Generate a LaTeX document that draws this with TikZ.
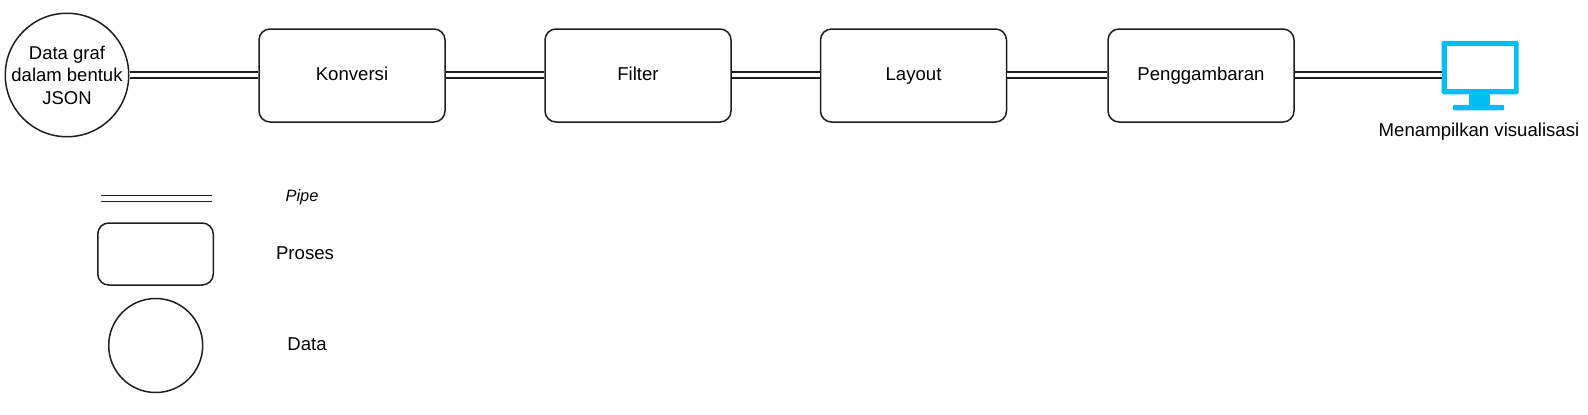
\documentclass[tikz,border=0pt]{standalone}
\usepackage{fontspec}
\setmainfont{Liberation Sans}
\definecolor{mon}{RGB}{0,190,242}
\definecolor{ln}{RGB}{30,30,30}
\tikzset{
  px/.style={x=1pt,y=-1pt},
  proc/.style={draw=ln,line width=1.5pt,rounded corners=11pt,minimum width=186pt,minimum height=93pt,inner sep=0pt,text height=13pt,text depth=4pt,font=\fontsize{18.6}{22}\selectfont,fill=white},
  dat/.style={draw=ln,line width=1.5pt,circle,inner sep=-8pt,align=center,font=\fontsize{18.5}{22.5}\selectfont,fill=white},
  pipe/.style={draw=ln,line width=7.6pt,postaction={draw=white,line width=4.6pt}},
  lbl/.style={inner sep=0pt,font=\fontsize{18.6}{22}\selectfont},
  monpart/.style={fill=mon,draw=none,inner sep=0pt}
}
\begin{document}
\begin{tikzpicture}[px]
\useasboundingbox (0,0) rectangle (1588,415);
\coordinate (cpipe) at (0,75);
\node[dat,minimum size=123.5pt] (d) at (67,75) {Data graf\\dalam bentuk\\JSON};
\node[proc] (p1) at (352,75.5) {Konversi};
\node[proc] (p2) at (638,75.5) {Filter};
\node[proc] (p3) at (913.5,75.5) {Layout};
\node[proc] (p4) at (1201,75.5) {Penggambaran};
% monitor
\node[monpart,rounded corners=1.5pt,minimum width=77pt,minimum height=53.5pt] (mon) at (1480.2,67.5) {};
\node[fill=white,draw=none,inner sep=0pt,minimum width=67.5pt,minimum height=43.5pt] (scr) at (1480.3,67.6) {};
\node[monpart,minimum width=21pt,minimum height=12pt] (stand) at (1479.5,99.5) {};
\node[monpart,rounded corners=1pt,minimum width=51pt,minimum height=5.5pt] (base) at (1478.5,107.5) {};
\node[lbl] (ml) at (1479,132) {Menampilkan visualisasi};
\draw[pipe] (d.east |- cpipe) -- (p1.west |- cpipe);
\draw[pipe] (p1.east |- cpipe) -- (p2.west |- cpipe);
\draw[pipe] (p2.east |- cpipe) -- (p3.west |- cpipe);
\draw[pipe] (p3.east |- cpipe) -- (p4.west |- cpipe);
\draw[pipe] (p4.east |- cpipe) -- (mon.west |- cpipe);
% legend
\coordinate (la) at (101,198.5);
\coordinate (lb) at (212,198.5);
\draw[pipe] (la) -- (lb);
\node[proc,minimum width=115.5pt,minimum height=62pt] (lp) at (155.5,254) {};
\node[dat,minimum size=94pt] (ld) at (155.7,345.5) {};
\node[lbl,font=\fontsize{16.4}{20}\selectfont\itshape] (t1) at (302,197.5) {Pipe};
\node[lbl] (t2) at (305,253) {Proses};
\node[lbl] (t3) at (307,344) {Data};
\end{tikzpicture}
\end{document}
